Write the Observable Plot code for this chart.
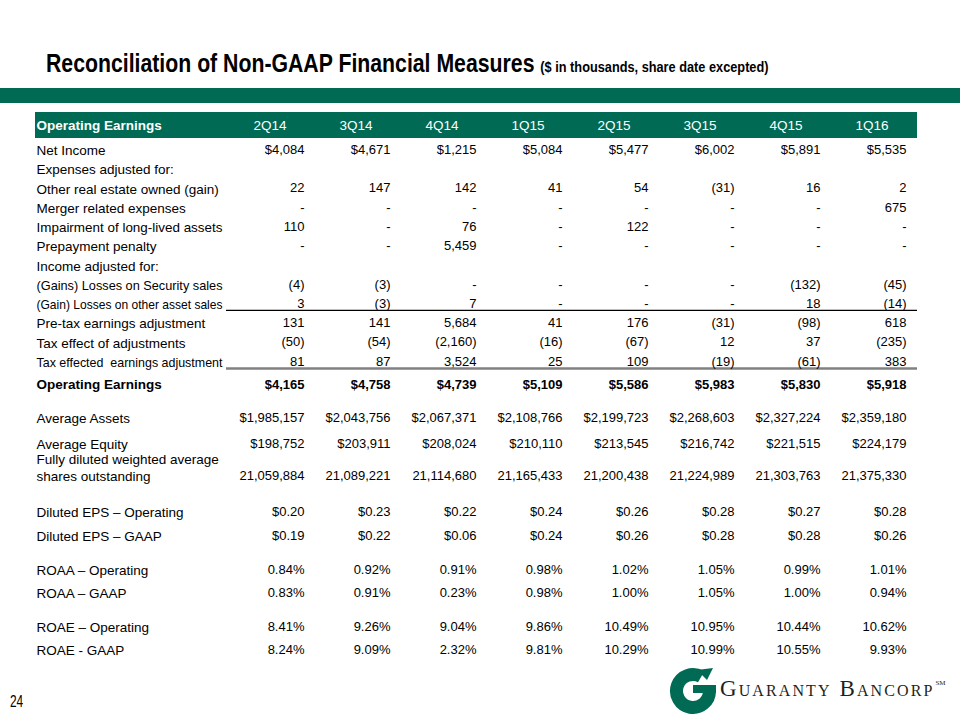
<!DOCTYPE html>
<html>
<head>
<meta charset="utf-8">
<script src="https://cdn.jsdelivr.net/npm/d3@7"></script>
<script src="https://cdn.jsdelivr.net/npm/@observablehq/plot@0.6"></script>
<style>
  html, body { margin: 0; padding: 0; background: #fff; }
  body { width: 960px; height: 720px; position: relative; overflow: hidden; font-family: "Liberation Sans", Arial, sans-serif; }
  #title { position: absolute; left: 46px; top: 51px; line-height: 25px; font-family: "Liberation Sans", Arial, sans-serif; font-weight: bold; font-size: 25px; color: #000; white-space: nowrap; transform: scaleX(0.85); transform-origin: 0 0; }
  #title .sub { font-size: 15px; }
  #band { position: absolute; left: 0; top: 88px; width: 960px; height: 15px; background: #006a54; }
  #chart { position: absolute; left: 0; top: 104px; }
  #page { position: absolute; left: 10px; top: 693px; font-family: "Liberation Sans", Arial, sans-serif; font-size: 17px; line-height: 17px; color: #000; transform: scaleX(0.7); transform-origin: 0 0; }
  #logo-g { position: absolute; left: 669px; top: 666px; }
  #logo-text { position: absolute; left: 720px; top: 672px; font-family: "Liberation Serif", "DejaVu Serif", serif; font-size: 23px; line-height: 23px; font-variant: small-caps; color: #231f20; letter-spacing: 2.1px; white-space: nowrap; }
  #logo-text sup { font-size: 7px; vertical-align: 11px; font-variant: normal; letter-spacing: 0; margin-left: 1px; }
</style>
</head>
<body>
<div id="title">Reconciliation of Non-GAAP Financial Measures <span class="sub">($ in thousands, share date excepted)</span></div>
<div id="band"></div>
<div id="chart"></div>
<div id="page">24</div>
<svg id="logo-g" width="50" height="50" viewBox="0 0 50 50">
  <path d="M 40.5 25 A 16.5 16.5 0 1 1 32.25 10.7" fill="none" stroke="#006a54" stroke-width="13"/>
  <path d="M 24 19 L 47 19 L 47 27 L 24 27 Z" fill="#006a54"/>
  <path d="M 28 4 L 44 2 L 38 14 Z" fill="#006a54"/>
</svg>
<div id="logo-text">Guaranty Bancorp<sup>SM</sup></div>
<script>
// ---- Data ----
const quarters = ["2Q14", "3Q14", "4Q14", "1Q15", "2Q15", "3Q15", "4Q15", "1Q16"];
const headerLabel = "Operating Earnings";

const netIncome = [4084, 4671, 1215, 5084, 5477, 6002, 5891, 5535];
const otherRealEstateOwned = [22, 147, 142, 41, 54, -31, 16, 2];
const mergerExpenses = [0, 0, 0, 0, 0, 0, 0, 675];
const impairment = [110, 0, 76, 0, 122, 0, 0, 0];
const prepaymentPenalty = [0, 0, 5459, 0, 0, 0, 0, 0];
const securityGains = [-4, -3, 0, 0, 0, 0, -132, -45];
const otherAssetGains = [3, -3, 7, 0, 0, 0, 18, -14];
const pretaxAdjustment = [131, 141, 5684, 41, 176, -31, -98, 618];
const taxEffect = [-50, -54, -2160, -16, -67, 12, 37, -235];
const taxEffectedAdjustment = [81, 87, 3524, 25, 109, -19, -61, 383];
const operatingEarnings = [4165, 4758, 4739, 5109, 5586, 5983, 5830, 5918];
const averageAssets = [1985157, 2043756, 2067371, 2108766, 2199723, 2268603, 2327224, 2359180];
const averageEquity = [198752, 203911, 208024, 210110, 213545, 216742, 221515, 224179];
const dilutedShares = [21059884, 21089221, 21114680, 21165433, 21200438, 21224989, 21303763, 21375330];
const epsOperating = [0.20, 0.23, 0.22, 0.24, 0.26, 0.28, 0.27, 0.28];
const epsGaap = [0.19, 0.22, 0.06, 0.24, 0.26, 0.28, 0.28, 0.26];
const roaaOperating = [0.84, 0.92, 0.91, 0.98, 1.02, 1.05, 0.99, 1.01];
const roaaGaap = [0.83, 0.91, 0.23, 0.98, 1.00, 1.05, 1.00, 0.94];
const roaeOperating = [8.41, 9.26, 9.04, 9.86, 10.49, 10.95, 10.44, 10.62];
const roaeGaap = [8.24, 9.09, 2.32, 9.81, 10.29, 10.99, 10.55, 9.93];

// ---- Formatting ----
const fInt = d3.format(",");
const acct = v => v === 0 ? "-" : v < 0 ? `(${fInt(-v)})` : fInt(v);
const dollar = v => "$" + fInt(v);
const eps = v => "$" + v.toFixed(2);
const pct = v => v.toFixed(2) + "%";
const plain = v => fInt(v);

// ---- Table rows (step = vertical spacing before the row, in row units) ----
const rowSpec = [
  {label: "Net Income", values: netIncome, fmt: dollar, step: 0},
  {label: "Expenses adjusted for:", step: 1},
  {label: "Other real estate owned (gain)", values: otherRealEstateOwned, fmt: acct, step: 1},
  {label: "Merger related expenses", values: mergerExpenses, fmt: acct, step: 1},
  {label: "Impairment of long-lived assets", values: impairment, fmt: acct, step: 1},
  {label: "Prepayment penalty", values: prepaymentPenalty, fmt: acct, step: 1},
  {label: "Income adjusted for:", step: 1},
  {label: "(Gains) Losses on Security sales", values: securityGains, fmt: acct, step: 1},
  {label: "(Gain) Losses on other asset sales", values: otherAssetGains, fmt: acct, step: 1, ruleAfter: "thin"},
  {label: "Pre-tax earnings adjustment", values: pretaxAdjustment, fmt: acct, step: 1},
  {label: "Tax effect of adjustments", values: taxEffect, fmt: acct, step: 1},
  {label: "Tax effected  earnings adjustment", values: taxEffectedAdjustment, fmt: acct, step: 1, ruleAfter: "thick"},
  {label: "Operating Earnings", values: operatingEarnings, fmt: dollar, step: 1.2, bold: true},
  {label: "Average Assets", values: averageAssets, fmt: dollar, step: 1.7},
  {label: "Average Equity", values: averageEquity, fmt: dollar, step: 1.35},
  {label: "Fully diluted weighted average\nshares outstanding", values: dilutedShares, fmt: plain, step: 1.7, twoLine: true},
  {label: "Diluted EPS \u2013 Operating", values: epsOperating, fmt: eps, step: 1.85},
  {label: "Diluted EPS \u2013 GAAP", values: epsGaap, fmt: eps, step: 1.25},
  {label: "ROAA \u2013 Operating", values: roaaOperating, fmt: pct, step: 1.75},
  {label: "ROAA \u2013 GAAP", values: roaaGaap, fmt: pct, step: 1.2},
  {label: "ROAE \u2013 Operating", values: roaeOperating, fmt: pct, step: 1.75},
  {label: "ROAE - GAAP", values: roaeGaap, fmt: pct, step: 1.2}
];

let acc = 0;
const rows = rowSpec.map(r => { acc += r.step; return {...r, slot: acc}; });
const headerSlot = -1.25;
const lastSlot = rows[rows.length - 1].slot;

const cells = rows.flatMap(r => r.values ? r.values.map((v, i) => ({
  q: quarters[i], slot: r.slot, text: r.fmt(v), bold: !!r.bold
})) : []);

const labels = rows.map(r => ({
  slot: r.twoLine ? r.slot - 0.47 : r.slot,
  text: r.label, bold: !!r.bold
}));

const rules = [];
rows.forEach(r => {
  if (r.ruleAfter) rules.push({slot: r.slot + (r.ruleAfter === "thin" ? 0.35 : 0.37), kind: r.ruleAfter});
});

const font = "'Liberation Sans', Arial, sans-serif";
const ruleOpts = {y: "slot", x1: () => quarters[0], x2: () => quarters[quarters.length - 1], insetLeft: -78, insetRight: -11};

const chart = Plot.plot({
  width: 960,
  height: 560,
  marginLeft: 35,
  marginRight: 43,
  marginTop: 0,
  marginBottom: 0,
  style: {fontFamily: font, fontSize: "13px", background: "transparent", overflow: "visible"},
  x: {type: "point", domain: quarters, range: [303, 906], padding: 0, axis: null},
  y: {type: "linear", domain: [headerSlot, lastSlot], range: [21, 545], axis: null},
  marks: [
    // header band
    Plot.rect([{y1: headerSlot - 0.675, y2: headerSlot + 0.675}], {y1: "y1", y2: "y2", fill: "#006a54"}),
    Plot.text([headerLabel], {frameAnchor: "left", y: () => headerSlot, text: d => d, textAnchor: "start", dx: 1, fill: "#fff", fontWeight: "bold", fontSize: 13.5}),
    Plot.text(quarters, {x: d => d, y: () => headerSlot, text: d => d, textAnchor: "end", dx: -18, fill: "#fff", fontSize: 13.5}),
    // rules
    Plot.ruleY(rules.filter(d => d.kind === "thin"), {...ruleOpts, stroke: "#000", strokeWidth: 1.3}),
    Plot.ruleY(rules.filter(d => d.kind === "thick"), {...ruleOpts, stroke: "#808080", strokeWidth: 2.5}),
    // row labels
    Plot.text(labels.filter(d => !d.bold), {frameAnchor: "left", y: "slot", text: "text", textAnchor: "start", dx: 1, fill: "#000", lineHeight: 1.25, fontSize: 13.5}),
    Plot.text(labels.filter(d => d.bold), {frameAnchor: "left", y: "slot", text: "text", textAnchor: "start", dx: 1, fill: "#000", fontSize: 13.5, fontWeight: "bold"}),
    // values
    Plot.text(cells.filter(d => !d.bold), {x: "q", y: "slot", text: "text", textAnchor: "end", fill: "#000", fontSize: 13}),
    Plot.text(cells.filter(d => d.bold), {x: "q", y: "slot", text: "text", textAnchor: "end", fill: "#000", fontSize: 13, fontWeight: "bold"})
  ]
});
document.getElementById("chart").appendChild(chart);

// Shrink-to-fit for long row labels (as in the source spreadsheet's label column)
const maxLabelWidth = 186;
const labelSet = new Set(rowSpec.filter(r => !r.twoLine).map(r => r.label));
chart.querySelectorAll("text").forEach(t => {
  if (t.querySelector("tspan") || !labelSet.has(t.textContent)) return;
  const w = t.getComputedTextLength();
  if (w > maxLabelWidth) {
    t.setAttribute("textLength", maxLabelWidth);
    t.setAttribute("lengthAdjust", "spacingAndGlyphs");
  }
});
</script>
</body>
</html>
